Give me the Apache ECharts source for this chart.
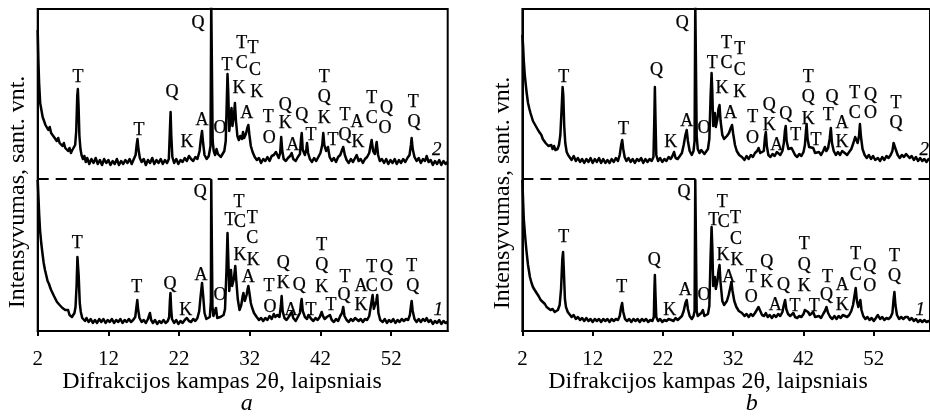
<!DOCTYPE html>
<html><head><meta charset="utf-8">
<script src="https://cdn.jsdelivr.net/npm/echarts@6/dist/echarts.min.js"></script>
<style>html,body{margin:0;padding:0;background:#fff}#c{width:930px;height:417px}</style>
</head><body><div id="c"></div>
<script>
// x tick labels (2θ, degrees)
const xTicks = [2, 12, 22, 32, 42, 52];
// Panel a, curve 2 (upper)
const a2 = [[2.0,301],[2.1,270],[2.2,248],[2.35,228],[2.5,222],[2.7,214],[2.9,212],[3.1,206],[3.3,208],[3.5,201],[3.7,204],[3.9,198],[4.1,200],[4.3,194],[4.5,196],[4.7,190],[4.9,193],[5.1,188],[5.3,190],[5.5,185],[5.7,188],[5.9,183],[6.1,185],[6.3,180],[6.5,183],[6.7,178],[6.9,181],[7.1,180],[7.3,186],[7.45,200],[7.6,236],[7.68,242],[7.78,225],[7.9,195],[8.05,182],[8.2,176],[8.4,172],[8.6,175],[8.8,169],[9.0,173],[9.3,167],[9.6,172],[9.9,168],[10.2,173],[10.5,167],[10.8,171],[11.1,166],[11.4,172],[11.7,168],[12.0,171],[12.3,166],[12.6,170],[12.9,167],[13.2,172],[13.5,166],[13.8,170],[14.1,167],[14.4,171],[14.7,168],[15.0,172],[15.3,167],[15.6,172],[15.85,176],[16.0,186],[16.12,192],[16.25,182],[16.45,173],[16.7,169],[17.0,172],[17.3,166],[17.6,171],[17.9,168],[18.2,173],[18.5,167],[18.8,171],[19.1,168],[19.4,172],[19.7,167],[20.0,171],[20.3,168],[20.55,172],[20.7,200],[20.8,219],[20.9,195],[21.05,174],[21.3,168],[21.6,172],[21.9,167],[22.2,171],[22.5,169],[22.8,173],[23.1,170],[23.4,175],[23.7,172],[24.0,170],[24.3,174],[24.6,172],[24.9,180],[25.1,193],[25.25,200],[25.4,188],[25.6,176],[25.9,172],[26.2,175],[26.45,185],[26.55,330],[26.65,330],[26.75,190],[26.9,180],[27.1,176],[27.3,182],[27.5,177],[27.7,178],[27.9,174],[28.1,176],[28.4,180],[28.6,190],[28.75,230],[28.85,257],[28.95,240],[29.1,200],[29.3,215],[29.42,223],[29.55,205],[29.75,215],[29.9,228],[30.05,210],[30.25,195],[30.45,191],[30.65,195],[30.9,192],[31.05,199],[31.2,193],[31.45,197],[31.65,203],[31.8,206],[31.95,196],[32.15,185],[32.4,179],[32.7,174],[33.0,171],[33.3,173],[33.6,168],[33.9,172],[34.2,170],[34.5,174],[34.8,170],[35.1,175],[35.4,176],[35.7,179],[35.9,177],[36.1,173],[36.3,178],[36.45,194],[36.6,180],[36.8,172],[37.1,170],[37.4,173],[37.7,175],[37.93,178],[38.15,172],[38.5,170],[38.8,174],[39.1,177],[39.25,192],[39.35,198],[39.5,181],[39.8,176],[40.0,182],[40.1,188],[40.25,178],[40.5,172],[40.8,169],[41.1,173],[41.4,170],[41.7,174],[42.0,178],[42.25,186],[42.4,198],[42.55,186],[42.8,180],[43.06,184],[43.3,174],[43.6,170],[43.9,173],[44.2,169],[44.5,174],[44.8,176],[45.0,180],[45.22,184],[45.45,176],[45.7,171],[46.0,168],[46.3,172],[46.6,169],[46.9,173],[47.12,176],[47.4,170],[47.7,172],[48.0,168],[48.3,172],[48.6,174],[48.9,178],[49.1,186],[49.24,191],[49.45,180],[49.7,177],[49.95,189],[50.15,176],[50.4,170],[50.7,172],[51.0,168],[51.3,172],[51.6,167],[51.9,171],[52.2,168],[52.5,172],[52.8,167],[53.1,171],[53.4,168],[53.7,172],[54.0,169],[54.3,173],[54.6,176],[54.8,186],[54.9,193],[55.05,182],[55.3,174],[55.6,170],[55.9,173],[56.2,168],[56.5,172],[56.8,170],[57.02,175],[57.3,169],[57.6,171],[57.9,166],[58.2,170],[58.5,167],[58.8,171],[59.1,166],[59.4,170],[59.7,167],[60,169]];
// Panel a, curve 1 (lower)
const a1 = [[2.0,151],[2.1,135],[2.2,118],[2.33,101],[2.5,88],[2.7,76],[2.85,68],[3.03,61],[3.2,56],[3.4,50],[3.6,47],[3.74,44],[3.9,41],[4.1,38],[4.3,35],[4.5,33],[4.73,29],[4.9,30],[5.1,26],[5.3,27],[5.5,23],[5.7,25],[5.9,21],[6.14,19],[6.3,21],[6.5,16],[6.7,18],[6.85,14],[7.0,16],[7.2,18],[7.35,24],[7.5,45],[7.62,74],[7.7,76],[7.8,55],[7.95,28],[8.1,19],[8.3,13],[8.5,15],[8.7,10],[8.9,13],[9.2,9],[9.5,12],[9.8,8],[10.1,11],[10.4,8],[10.7,12],[11.0,9],[11.3,12],[11.6,8],[11.9,11],[12.2,9],[12.5,12],[12.8,8],[13.1,11],[13.4,9],[13.7,12],[14.0,8],[14.3,11],[14.6,9],[14.9,12],[15.2,9],[15.5,11],[15.8,14],[15.97,24],[16.09,31],[16.2,22],[16.4,13],[16.7,9],[17.0,11],[17.3,8],[17.6,12],[17.88,18],[18.05,11],[18.3,8],[18.6,11],[18.9,7],[19.2,10],[19.5,8],[19.8,11],[20.1,8],[20.4,10],[20.6,14],[20.7,30],[20.78,38],[20.88,22],[21.0,12],[21.3,8],[21.6,11],[21.9,7],[22.2,10],[22.5,8],[22.8,11],[23.1,13],[23.4,10],[23.7,9],[24.0,12],[24.3,10],[24.6,13],[24.85,20],[25.05,35],[25.25,48],[25.4,36],[25.6,18],[25.85,12],[26.1,10],[26.35,14],[26.5,30],[26.55,151],[26.65,151],[26.72,25],[26.85,15],[27.0,14],[27.22,23],[27.4,13],[27.6,11],[27.85,14],[28.1,12],[28.3,16],[28.5,22],[28.7,60],[28.85,98],[28.95,75],[29.1,40],[29.25,52],[29.34,61],[29.5,45],[29.75,52],[29.95,65],[30.1,50],[30.3,32],[30.55,21],[30.8,26],[31.0,35],[31.1,38],[31.3,30],[31.55,36],[31.7,42],[31.8,45],[31.95,38],[32.15,28],[32.3,24],[32.6,18],[32.98,14],[33.3,11],[33.6,13],[33.9,10],[34.2,13],[34.5,11],[34.8,15],[35.1,12],[35.4,17],[35.6,14],[35.9,16],[36.2,14],[36.4,25],[36.51,35],[36.65,20],[36.9,13],[37.2,11],[37.5,14],[37.7,16],[37.93,19],[38.15,13],[38.5,10],[38.8,14],[39.1,18],[39.25,28],[39.34,32],[39.5,20],[39.8,14],[40.1,12],[40.3,16],[40.51,18],[40.7,12],[41.0,10],[41.3,13],[41.6,11],[41.9,14],[42.17,19],[42.35,15],[42.6,12],[42.9,14],[43.1,12],[43.34,16],[43.6,11],[43.9,9],[44.2,12],[44.5,10],[44.8,15],[45.05,18],[45.22,24],[45.4,15],[45.7,11],[46.0,9],[46.3,12],[46.6,10],[46.9,13],[47.12,13],[47.4,10],[47.7,12],[48.0,9],[48.3,12],[48.6,11],[48.9,15],[49.15,26],[49.38,36],[49.55,22],[49.75,20],[49.9,30],[50.03,36],[50.2,18],[50.45,11],[50.8,9],[51.1,12],[51.4,8],[51.7,11],[52.0,9],[52.3,12],[52.6,8],[52.9,11],[53.2,9],[53.5,12],[53.8,10],[54.1,12],[54.4,11],[54.65,16],[54.8,25],[54.9,30],[55.05,20],[55.3,12],[55.6,9],[55.9,12],[56.2,9],[56.5,12],[56.8,10],[57.02,13],[57.3,9],[57.6,11],[57.9,7],[58.2,10],[58.5,8],[58.8,11],[59.1,7],[59.4,10],[59.7,8],[60,9]];
// Panel b, curve 2 (upper)
const b2 = [[2.0,296],[2.1,285],[2.2,270],[2.35,255],[2.5,245],[2.61,238],[2.8,228],[3.0,222],[3.15,218],[3.32,216],[3.5,210],[3.7,211],[3.9,205],[4.1,206],[4.3,200],[4.49,198],[4.7,196],[4.9,192],[5.1,193],[5.3,188],[5.5,189],[5.7,185],[5.9,184],[6.1,186],[6.3,182],[6.5,185],[6.7,181],[6.85,183],[7.0,182],[7.2,186],[7.4,196],[7.6,225],[7.72,244],[7.82,236],[7.95,205],[8.1,188],[8.3,179],[8.5,176],[8.73,174],[9.0,171],[9.3,175],[9.6,170],[9.9,173],[10.2,169],[10.5,172],[10.8,168],[11.1,172],[11.4,169],[11.7,173],[12.0,168],[12.3,172],[12.6,169],[12.9,173],[13.2,168],[13.5,172],[13.8,168],[14.1,171],[14.4,168],[14.7,172],[15.0,169],[15.3,173],[15.6,170],[15.85,176],[16.05,186],[16.2,191],[16.35,182],[16.55,174],[16.8,170],[17.1,173],[17.4,169],[17.7,172],[18.0,168],[18.3,172],[18.6,170],[18.9,173],[19.2,168],[19.5,172],[19.8,169],[20.1,172],[20.4,170],[20.65,174],[20.78,215],[20.85,244],[20.93,215],[21.05,176],[21.3,170],[21.6,173],[21.9,169],[22.2,172],[22.5,170],[22.8,174],[23.1,172],[23.35,175],[23.58,179],[23.8,173],[24.1,172],[24.4,175],[24.7,178],[24.95,186],[25.2,196],[25.38,201],[25.55,190],[25.8,180],[26.1,176],[26.35,180],[26.5,190],[26.6,330],[26.7,330],[26.8,195],[26.95,182],[27.2,178],[27.45,181],[27.68,181],[27.9,177],[28.15,178],[28.4,182],[28.6,192],[28.78,235],[28.92,258],[29.02,240],[29.15,205],[29.28,212],[29.38,218],[29.52,204],[29.75,212],[29.9,222],[30.05,226],[30.2,210],[30.45,196],[30.7,192],[30.9,191],[31.1,195],[31.4,198],[31.65,203],[31.83,206],[32.0,197],[32.25,186],[32.5,180],[32.85,176],[33.24,174],[33.6,171],[33.9,175],[34.2,172],[34.5,176],[34.8,174],[35.1,178],[35.4,180],[35.6,183],[35.85,178],[36.1,176],[36.35,180],[36.52,194],[36.64,199],[36.78,185],[37.0,176],[37.3,174],[37.6,177],[37.9,175],[38.2,179],[38.43,178],[38.7,176],[39.0,180],[39.2,188],[39.35,200],[39.47,205],[39.6,190],[39.85,182],[40.1,180],[40.3,183],[40.56,181],[40.8,176],[41.1,174],[41.4,177],[41.7,175],[42.0,179],[42.2,186],[42.35,200],[42.44,207],[42.58,192],[42.8,184],[43.05,186],[43.38,183],[43.65,178],[43.9,176],[44.2,179],[44.5,176],[44.8,180],[45.04,184],[45.25,180],[45.5,183],[45.72,192],[45.89,203],[46.05,188],[46.3,180],[46.6,176],[46.9,179],[47.2,176],[47.5,180],[47.87,178],[48.2,176],[48.5,179],[48.8,182],[49.1,188],[49.35,194],[49.51,196],[49.7,188],[49.9,195],[50.03,207],[50.18,194],[50.4,182],[50.7,176],[51.0,173],[51.3,176],[51.6,172],[51.9,175],[52.2,171],[52.58,173],[52.9,170],[53.2,174],[53.5,171],[53.8,175],[54.1,173],[54.4,176],[54.65,180],[54.82,188],[54.94,189],[55.1,182],[55.4,176],[55.7,173],[56.0,176],[56.3,174],[56.6,177],[56.82,176],[57.1,173],[57.4,175],[57.7,171],[58.0,174],[58.3,170],[58.6,173],[58.9,170],[59.2,172],[59.5,169],[59.8,172],[60,171]];
// Panel b, curve 1 (lower)
const b1 = [[2.0,151],[2.1,130],[2.2,112],[2.35,98],[2.5,86],[2.61,78],[2.8,66],[3.07,54],[3.3,48],[3.5,44],[3.75,41],[4.02,38],[4.3,35],[4.6,31],[4.9,29],[5.2,27],[5.44,24],[5.7,24],[6.0,21],[6.3,22],[6.6,19],[6.85,19],[7.05,21],[7.3,26],[7.5,42],[7.68,72],[7.79,79],[7.9,60],[8.05,32],[8.2,24],[8.45,19],[8.73,18],[9.0,14],[9.3,16],[9.6,12],[9.9,14],[10.2,11],[10.5,13],[10.8,10],[11.1,13],[11.4,10],[11.7,12],[12.0,9],[12.3,12],[12.6,10],[12.9,12],[13.2,9],[13.5,12],[13.8,10],[14.1,12],[14.4,9],[14.7,12],[15.0,10],[15.3,12],[15.6,11],[15.85,15],[16.05,24],[16.19,28],[16.35,19],[16.6,12],[16.9,10],[17.2,12],[17.5,9],[17.8,12],[18.1,10],[18.4,12],[18.7,9],[19.0,12],[19.3,10],[19.6,12],[19.9,9],[20.2,11],[20.5,10],[20.7,14],[20.78,40],[20.85,56],[20.93,38],[21.05,14],[21.3,10],[21.6,12],[21.9,9],[22.2,11],[22.5,10],[22.8,12],[22.98,14],[23.2,11],[23.5,10],[23.8,13],[24.1,11],[24.4,13],[24.7,15],[24.95,20],[25.2,28],[25.38,31],[25.55,22],[25.8,15],[26.1,12],[26.35,15],[26.5,20],[26.6,151],[26.7,151],[26.8,20],[26.95,15],[27.2,14],[27.45,18],[27.68,21],[27.9,15],[28.15,13],[28.4,17],[28.6,25],[28.78,75],[28.92,104],[29.02,85],[29.15,45],[29.28,48],[29.38,54],[29.52,42],[29.75,50],[29.9,60],[30.05,66],[30.2,48],[30.45,30],[30.7,26],[30.9,24],[31.1,30],[31.35,36],[31.6,44],[31.75,49],[31.9,40],[32.15,30],[32.45,24],[32.8,20],[33.24,18],[33.6,15],[33.9,17],[34.2,14],[34.5,17],[34.8,15],[35.1,18],[35.35,21],[35.6,24],[35.85,20],[36.1,16],[36.4,15],[36.64,18],[36.9,14],[37.2,16],[37.5,13],[37.8,16],[38.1,14],[38.4,17],[38.7,15],[39.0,19],[39.2,26],[39.38,31],[39.55,22],[39.8,17],[40.1,15],[40.3,17],[40.56,18],[40.8,14],[41.1,13],[41.4,15],[41.7,14],[42.0,17],[42.2,21],[42.44,23],[42.65,19],[42.9,16],[43.15,17],[43.38,19],[43.65,14],[43.9,13],[44.2,15],[44.5,13],[44.8,17],[45.05,20],[45.27,24],[45.5,18],[45.8,14],[46.1,12],[46.4,15],[46.7,12],[47.0,15],[47.3,13],[47.6,16],[47.87,18],[48.2,14],[48.5,16],[48.8,20],[49.05,26],[49.25,35],[49.43,43],[49.6,30],[49.8,24],[49.95,28],[50.09,31],[50.25,21],[50.5,15],[50.8,12],[51.1,14],[51.4,11],[51.7,13],[52.0,10],[52.3,13],[52.58,16],[52.9,12],[53.2,14],[53.5,11],[53.8,13],[54.1,12],[54.4,14],[54.65,18],[54.82,32],[54.94,39],[55.08,26],[55.3,16],[55.6,12],[55.9,14],[56.2,12],[56.5,14],[56.82,14],[57.1,11],[57.4,13],[57.7,10],[58.0,12],[58.3,9],[58.6,11],[58.9,9],[59.2,11],[59.5,9],[59.8,10],[60,9]];
// Phase labels [2θ, intensity, text]
const labA2 = [[24.67,308,'Q'],[7.70,254,'T'],[16.33,201,'T'],[20.99,239,'Q'],[23.12,189,'K'],[25.24,211,'A'],[27.79,203,'O'],[28.77,266,'T'],[30.85,268,'C'],[30.85,288,'T'],[32.45,283,'T'],[32.74,261,'C'],[30.47,243,'K'],[32.98,239,'K'],[31.56,218,'A'],[34.61,214,'T'],[34.75,193,'O'],[37.01,226,'Q'],[37.01,208,'K'],[39.34,216,'Q'],[38.07,186,'A'],[40.66,196,'T'],[42.54,254,'T'],[42.54,234,'Q'],[42.54,213,'K'],[43.77,191,'T'],[45.47,216,'T'],[45.47,196,'Q'],[47.16,209,'A'],[47.30,189,'K'],[49.24,233,'T'],[49.24,213,'C'],[51.36,223,'Q'],[51.12,203,'O'],[55.13,229,'T'],[55.23,209,'Q']];
const labA1 = [[24.98,139,'Q'],[7.60,88,'T'],[16.00,44,'T'],[20.71,47,'Q'],[22.93,21,'K'],[25.10,56,'A'],[27.79,36,'O'],[30.47,129,'T'],[29.20,111,'T'],[30.61,109,'C'],[32.35,113,'T'],[32.35,93,'C'],[30.61,76,'K'],[32.49,71,'K'],[31.80,54,'A'],[34.71,45,'T'],[34.86,24,'O'],[36.74,68,'Q'],[36.74,48,'K'],[39.00,46,'Q'],[37.83,21,'A'],[40.66,21,'T'],[42.17,86,'T'],[42.17,66,'Q'],[42.17,44,'K'],[43.49,26,'T'],[45.47,54,'T'],[45.32,36,'Q'],[47.73,45,'A'],[47.73,26,'K'],[49.24,45,'C'],[49.24,64,'T'],[51.36,64,'Q'],[51.36,45,'O'],[54.90,65,'T'],[55.04,45,'Q']];
const labB2 = [[7.88,254,'T'],[16.37,202,'T'],[21.08,261,'Q'],[23.12,189,'K'],[25.38,210,'A'],[24.76,308,'Q'],[27.83,203,'O'],[29.00,268,'T'],[31.04,288,'T'],[31.04,268,'C'],[32.92,282,'T'],[32.92,261,'C'],[30.42,243,'K'],[32.92,239,'K'],[31.60,218,'A'],[34.76,214,'T'],[34.76,193,'O'],[37.12,226,'Q'],[37.12,206,'K'],[38.20,186,'A'],[39.47,217,'Q'],[40.88,196,'T'],[42.68,254,'T'],[42.68,234,'Q'],[42.68,212,'K'],[43.77,191,'T'],[46.07,234,'Q'],[45.51,216,'T'],[47.49,208,'A'],[47.49,189,'K'],[49.28,238,'T'],[49.28,218,'C'],[51.55,236,'Q'],[51.55,218,'O'],[55.17,228,'T'],[55.17,208,'Q']];
const labB1 = [[25.00,139,'Q'],[7.88,94,'T'],[16.13,44,'T'],[20.76,71,'Q'],[22.98,21,'K'],[25.18,41,'A'],[27.83,36,'O'],[30.42,129,'T'],[29.24,111,'T'],[30.66,109,'C'],[32.31,113,'T'],[32.40,92,'C'],[30.56,76,'K'],[32.54,71,'K'],[31.36,54,'A'],[34.57,54,'T'],[34.57,34,'O'],[36.78,69,'Q'],[36.78,49,'K'],[39.14,46,'Q'],[37.97,26,'A'],[40.80,25,'T'],[42.11,87,'T'],[42.11,66,'Q'],[42.11,45,'K'],[43.53,25,'T'],[45.41,54,'T'],[45.27,36,'Q'],[47.53,46,'A'],[47.53,26,'K'],[49.43,77,'T'],[49.43,56,'C'],[51.41,65,'Q'],[51.41,45,'O'],[54.94,75,'T'],[54.94,55,'Q']];
// Curve numbers [2θ, intensity, text]
const curveA = [[58.44,181,'2'],[58.66,21,'1']];
const curveB = [[59.19,181,'2'],[58.62,21,'1']];
const separatorLevel = 152;

const FONT = '"Liberation Serif","Times New Roman",serif';
const chart = echarts.init(document.getElementById('c'), null, {renderer:'canvas'});

function gridDef(left){ return {left:left, top:9, width:410, height:322, show:true, borderColor:'#000', borderWidth:2, containLabel:false}; }
function xAx(i){ return {gridIndex:i, type:'value', min:2, max:60, interval:10,
  axisLine:{show:true, lineStyle:{color:'#000', width:2}},
  axisTick:{show:true, inside:false, length:5, lineStyle:{color:'#000', width:2}, customValues:xTicks},
  axisLabel:{show:true, color:'#000', fontFamily:FONT, fontSize:21, margin:18, customValues:xTicks},
  splitLine:{show:false}}; }
function yAx(i){ return {gridIndex:i, type:'value', min:0, max:322,
  axisLine:{show:true, lineStyle:{color:'#000', width:2}}, axisTick:{show:false}, axisLabel:{show:false}, splitLine:{show:false}}; }
function trace(d, i, withSep){
  const s = {type:'line', xAxisIndex:i, yAxisIndex:i, data:d, symbol:'none', silent:true, clip:true,
    lineStyle:{color:'#000', width:2.5, join:'round'}};
  if (withSep) s.markLine = {silent:true, symbol:'none', label:{show:false},
    lineStyle:{color:'#000', width:2, type:[11,7]}, data:[{yAxis:separatorLevel}]};
  return s;
}
function labels(arr, i, italic, size){
  return {type:'scatter', xAxisIndex:i, yAxisIndex:i, symbolSize:1, silent:true,
    itemStyle:{color:'rgba(0,0,0,0)'},
    label:{show:true, position:'inside', formatter:'{b}', color:'#000', opacity:1, textBorderWidth:0.25, textBorderColor:'#000', fontFamily:FONT, fontSize:size, fontStyle:italic?'italic':'normal'},
    data:arr.map(d=>({name:d[2], value:[d[0], d[1]]}))};
}
const yName = 'Intensyvumas, sant. vnt.';
const xName = 'Difrakcijos kampas 2θ, laipsniais';
chart.setOption({
  animation:false,
  backgroundColor:'#fff',
  grid:[gridDef(37.7), gridDef(522.4)],
  xAxis:[xAx(0), xAx(1)],
  yAxis:[yAx(0), yAx(1)],
  series:[
    trace(a2,0,false), trace(a1,0,true), trace(b2,1,false), trace(b1,1,true),
    labels(labA2,0,false,18), labels(labA1,0,false,18), labels(labB2,1,false,18), labels(labB1,1,false,18),
    labels(curveA,0,true,19), labels(curveB,1,true,19)
  ],
  graphic:[
    {type:'text', x:18, y:192, rotation:Math.PI/2, style:{text:yName, font:'24px '+FONT, fill:'#000', align:'center', verticalAlign:'middle'}},
    {type:'text', x:502.5, y:193, rotation:Math.PI/2, style:{text:yName, font:'24px '+FONT, fill:'#000', align:'center', verticalAlign:'middle'}},
    {type:'text', x:222, y:382, style:{text:xName, font:'24px '+FONT, fill:'#000', align:'center', verticalAlign:'middle'}},
    {type:'text', x:708, y:382, style:{text:xName, font:'24px '+FONT, fill:'#000', align:'center', verticalAlign:'middle'}},
    {type:'text', x:246.7, y:404, style:{text:'a', font:'italic 24px '+FONT, fill:'#000', align:'center', verticalAlign:'middle'}},
    {type:'text', x:751.7, y:404, style:{text:'b', font:'italic 24px '+FONT, fill:'#000', align:'center', verticalAlign:'middle'}}
  ]
});
</script></body></html>
